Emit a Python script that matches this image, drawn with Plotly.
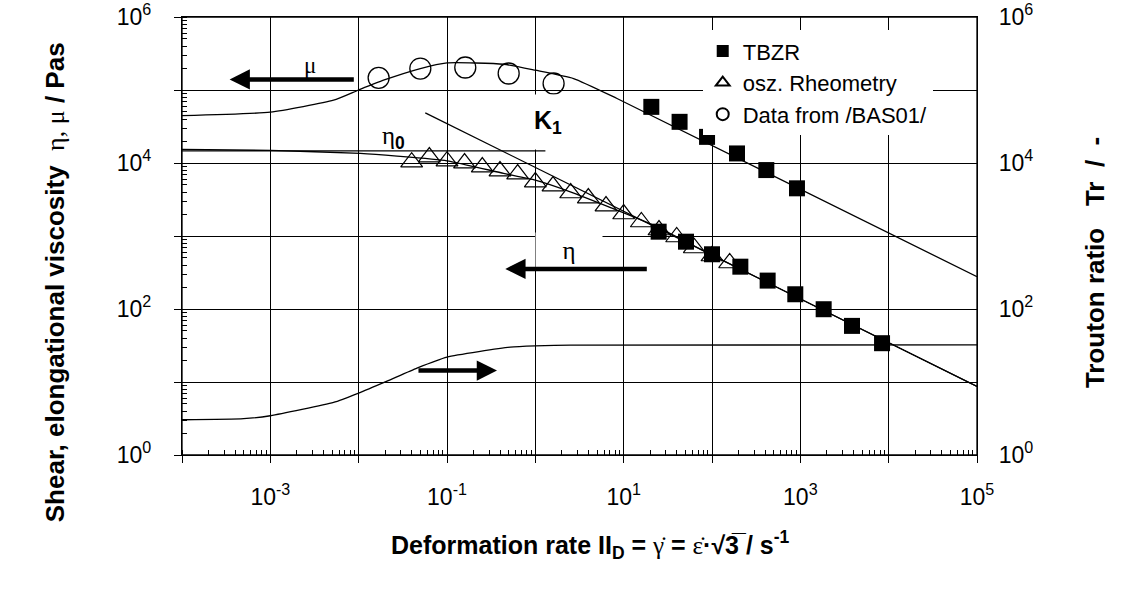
import plotly.graph_objects as go

# ---------------- data ----------------
# elongational viscosity model curve (mu)
mu_model_x = [1e-4, 1e-3, 0.0052, 0.01, 0.0191, 0.0499, 0.1, 0.4375, 1.0, 2.71, 8.41, 1e5]
mu_model_y = [44500, 49700, 72400, 100000, 136100, 196800, 235000, 225400, 186600, 143600, 76560, 277]

# shear viscosity model curve (eta)
eta_model_x = [1e-4, 1e-3, 0.01045, 0.02716, 0.1, 0.4375, 1.0, 2.489, 21.68, 100, 1e5]
eta_model_y = [15350, 14860, 13520, 12420, 10720, 7211, 5834, 4036, 1413, 548, 8.67]

# zero-shear viscosity line (eta_0)
eta0_x = [1e-4, 1.3]
eta0_y = [14690, 14690]

# power-law line (K1)
k1_x = [0.05675, 1e5]
k1_y = [48640, 8.67]

# Trouton ratio (right axis)
trouton_x = [1e-4, 4.98e-4, 1e-3, 0.0052, 0.01, 0.02094, 0.0457, 0.1, 0.521, 1.0, 2.489, 1e5]
trouton_y = [3.04, 3.14, 3.45, 5.25, 7.05, 10.28, 15.49, 21.93, 30.0, 31.26, 32.0, 32.3]

# Data from /BAS01/ (circles)
bas01_x = [0.01683, 0.0499, 0.161, 0.499, 1.61]
bas01_y = [146600, 196800, 203200, 168300, 122700]

# TBZR (squares): elongational and shear branch
tbzr_mu_x = [20.56, 42.95, 87.9, 191.9, 412, 916]
tbzr_mu_y = [58750, 36640, 22800, 13520, 8000, 4500]
tbzr_eta_x = [24.9, 50.8, 100, 209.4, 426.6, 877, 1837, 3846, 8414]
tbzr_eta_y = [1146, 835.6, 562, 380, 244.9, 159.2, 99.3, 58.7, 34.0]

# oscillatory rheometry (triangles)
osz_x = [0.0398, 0.0631, 0.1, 0.158, 0.251, 0.398, 0.631, 1.0, 1.585, 2.512,
         3.981, 6.31, 10, 15.85, 25.12, 39.81, 63.1, 100, 158.5]
osz_y = [10280, 12050, 10600, 9970, 8790, 7750, 7050, 5480, 4830, 3880,
         3310, 2570, 2000, 1555, 1208, 969, 685, 532, 427]

# axis ticks
x_tick_vals = [1e-4, 1e-3, 1e-2, 1e-1, 1e0, 1e1, 1e2, 1e3, 1e4, 1e5]
x_tick_text = ["", "10<sup>-3</sup>", "", "10<sup>-1</sup>", "", "10<sup>1</sup>", "",
               "10<sup>3</sup>", "", "10<sup>5</sup>"]
y_tick_vals = [1e0, 1e1, 1e2, 1e3, 1e4, 1e5, 1e6]
y_tick_text = ["10<sup>0</sup>", "", "10<sup>2</sup>", "", "10<sup>4</sup>", "", "10<sup>6</sup>"]
y2_tick_vals = [1e0, 1e2, 1e4, 1e6]
y2_tick_text = ["10<sup>0</sup>", "10<sup>2</sup>", "10<sup>4</sup>", "10<sup>6</sup>"]

# ---------------- figure ----------------
SANS = "Liberation Sans, Arial, sans-serif"
SERIF = "Liberation Serif, Times New Roman, serif"
LINE = dict(color="black", width=1.3)

fig = go.Figure()

fig.add_trace(go.Scatter(x=mu_model_x, y=mu_model_y, mode="lines",
                         line=dict(color="black", width=1.3, shape="spline", smoothing=0.5),
                         showlegend=False, hoverinfo="skip"))
fig.add_trace(go.Scatter(x=eta_model_x, y=eta_model_y, mode="lines",
                         line=dict(color="black", width=1.3, shape="spline", smoothing=0.5),
                         showlegend=False, hoverinfo="skip"))
fig.add_trace(go.Scatter(x=eta0_x, y=eta0_y, mode="lines", line=LINE,
                         showlegend=False, hoverinfo="skip"))
fig.add_trace(go.Scatter(x=k1_x, y=k1_y, mode="lines", line=LINE,
                         showlegend=False, hoverinfo="skip"))
fig.add_trace(go.Scatter(x=trouton_x, y=trouton_y, mode="lines", yaxis="y2",
                         line=dict(color="black", width=1.3, shape="spline", smoothing=0.5),
                         showlegend=False, hoverinfo="skip"))

fig.add_trace(go.Scatter(x=tbzr_mu_x + tbzr_eta_x, y=tbzr_mu_y + tbzr_eta_y, mode="markers",
                         name="TBZR",
                         marker=dict(symbol="square", size=16, color="black",
                                     line=dict(color="black", width=0))))
fig.add_trace(go.Scatter(x=osz_x, y=osz_y, mode="markers", name="osz. Rheometry",
                         marker=dict(symbol="triangle-up-open", size=19, color="black",
                                     line=dict(color="black", width=1.2))))
fig.add_trace(go.Scatter(x=bas01_x, y=bas01_y, mode="markers", name="Data from /BAS01/",
                         marker=dict(symbol="circle-open", size=21, color="black",
                                     line=dict(color="black", width=1.3))))

axis_common = dict(type="log", showline=True, linecolor="black", linewidth=1.3,
                   zeroline=False, tickfont=dict(family=SANS, size=23, color="black"),
                   tickcolor="black", ticklabeloverflow="allow")

fig.update_layout(
    width=1144, height=595,
    margin=dict(l=182, r=167, t=17, b=140, autoexpand=False),
    paper_bgcolor="white", plot_bgcolor="white",
    xaxis=dict(**axis_common, range=[-4, 5], tickmode="array",
               tickvals=x_tick_vals, ticktext=x_tick_text,
               ticks="outside", ticklen=7, tickwidth=1.3, mirror=True,
               showgrid=True, gridcolor="black", gridwidth=1,
               ticklabelstandoff=14,
               minor=dict(ticks="inside", ticklen=5, tickwidth=1, tickcolor="black",
                          dtick="D1", showgrid=False)),
    yaxis=dict(**axis_common, range=[0, 6], tickmode="array",
               tickvals=y_tick_vals, ticktext=y_tick_text,
               ticks="outside", ticklen=7, tickwidth=1.3, mirror=True,
               showgrid=True, gridcolor="black", gridwidth=1,
               ticklabelstandoff=18,
               minor=dict(ticks="inside", ticklen=5, tickwidth=1, tickcolor="black",
                          dtick="D1", showgrid=False)),
    yaxis2=dict(**axis_common, range=[0, 6], overlaying="y", side="right",
                tickmode="array", tickvals=y2_tick_vals, ticktext=y2_tick_text,
                ticks="", showgrid=False, ticklabelstandoff=16),
    legend=dict(x=0.655, y=0.970, xanchor="left", yanchor="top",
                bgcolor="white", borderwidth=0, itemsizing="constant",
                font=dict(family=SANS, size=22, color="black")),
    showlegend=True,
    shapes=[dict(type="rect", xref="paper", yref="paper", x0=0, x1=1, y0=0, y1=1,
                 line=dict(color="black", width=1.3), fillcolor="rgba(0,0,0,0)",
                 layer="above")],
)

arrow = dict(showarrow=True, arrowhead=2, arrowwidth=4.5, arrowsize=0.9,
             arrowcolor="black", text="", xref="x", yref="y", axref="x", ayref="y")

annotations = [
    # mu arrow and label
    dict(**arrow, x=-3.461, y=5.144, ax=-2.038, ay=5.144),
    dict(x=-2.547, y=5.339, xref="x", yref="y", text="μ", showarrow=False,
         font=dict(family=SERIF, size=23, color="black")),
    # eta label (white box) and arrow
    dict(x=0.385, y=2.809, xref="x", yref="y", text="η", showarrow=False,
         bgcolor="white", width=64, height=32,
         font=dict(family=SERIF, size=25, color="black")),
    dict(**arrow, x=-0.340, y=2.549, ax=1.279, ay=2.549),
    # Trouton arrow (right axis)
    dict(showarrow=True, arrowhead=2, arrowwidth=4.5, arrowsize=0.9, arrowcolor="black",
         text="", xref="x", yref="y2", axref="x", ayref="y2",
         x=-0.434, y=1.157, ax=-1.340, ay=1.157),
    # eta_0 label
    dict(x=-1.608, y=4.354, xref="x", yref="y", showarrow=False,
         text="η<sub><span style='font-family:Liberation Sans;font-weight:bold'>0</span></sub>",
         font=dict(family=SERIF, size=25, color="black")),
    # K1 label (white box)
    dict(x=0.147, y=4.56, xref="x", yref="y", showarrow=False,
         text="<b>K<sub>1</sub></b>", bgcolor="white", width=40, height=52,
         font=dict(family=SANS, size=25, color="black")),
    # axis titles
    dict(x=-0.1808, y=0.395, xref="paper", yref="paper", showarrow=False, textangle=-90,
         text="<b>Shear, elongational viscosity</b>\u00a0 "
              "<span style='font-family:Liberation Serif'>η, μ</span> <b>/ Pas</b>",
         font=dict(family=SANS, size=26, color="black")),
    dict(x=1.170, y=0.4385, xref="paper", yref="paper", showarrow=False, textangle=-90,
         text="<b>Trouton ratio\u00a0\u00a0 Tr\u00a0 /\u00a0 -</b>",
         font=dict(family=SANS, size=26, color="black")),
    dict(x=0.5136, y=-0.2501, xref="paper", yref="paper", showarrow=False,
         text="<b>Deformation rate II<sub>D</sub> = </b>"
              "<span style='font-family:Liberation Serif'>\u03b3\u0307</span><b> = </b>"
              "<span style='font-family:Liberation Serif'>\u03b5\u0307</span>"
              "<b>\u00b7\u221a3\u0305 / s<sup>-1</sup></b>",
         font=dict(family=SANS, size=25, color="black")),
]
fig.update_layout(annotations=annotations)

# remove the default 8px page margin so the figure sits at the window's top-left corner
fig.write_html("out.html",
               config={"displayModeBar": False},
               post_script="document.body.style.margin='0px';"
                           "document.body.style.overflow='hidden';")
